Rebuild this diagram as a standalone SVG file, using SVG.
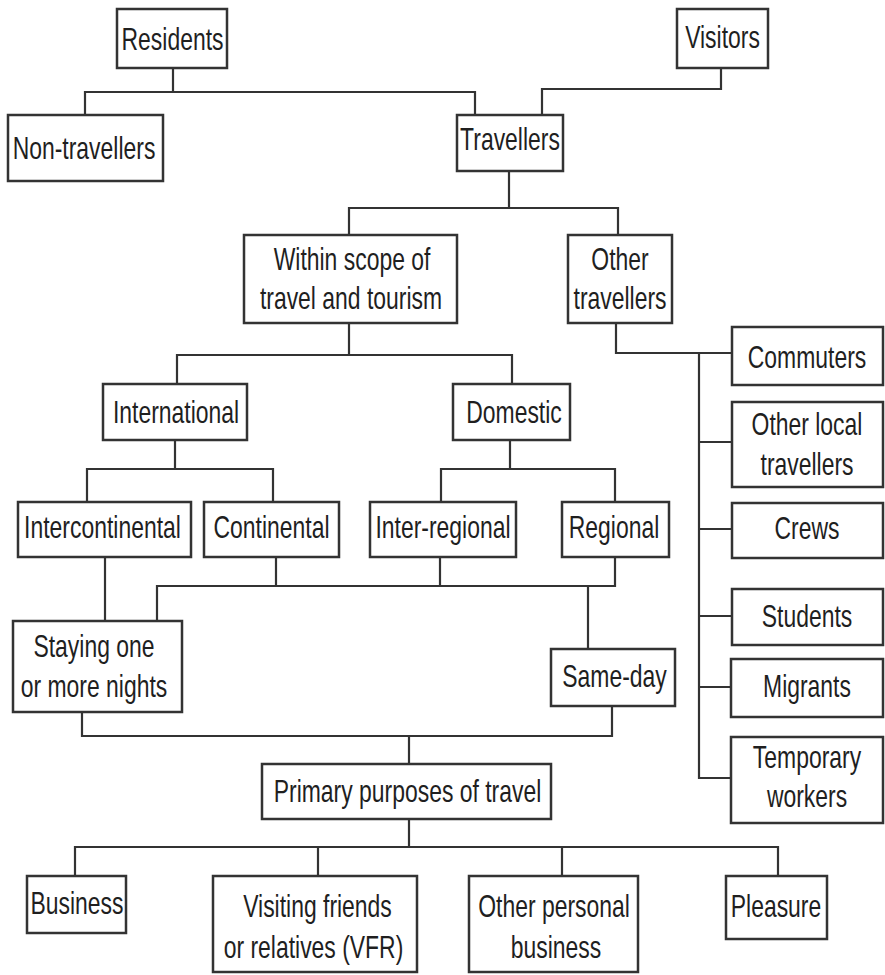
<svg xmlns="http://www.w3.org/2000/svg" width="885" height="975" viewBox="0 0 885 975">
  <style>
    .box rect { fill: #ffffff; stroke: #333333; stroke-width: 2.5; }
    .box text, text.lbl { font-family: "Liberation Sans", Arial, sans-serif; font-size: 31px; fill: #1f1f1f; text-anchor: middle; }
    #connectors path { fill: none; stroke: #333333; stroke-width: 2.2; }
  </style>
  <rect width="885" height="975" fill="#ffffff"/>

  <!-- tree links -->
  <g id="connectors">
    <path d="M173 68 V92 M85 115 V92 H475 V115"/>
    <path d="M721 68 V89 H542 V115"/>
    <path d="M509 171 V208 M349 235 V208 H618 V235"/>
    <path d="M349 323 V355 M177 384 V355 H512 V384"/>
    <path d="M616 323 V353 H732 M699 353 V778 H731 M699 442 H732 M699 529 H732 M699 616 H732 M699 687 H732"/>
    <path d="M175 440 V469 M87 502 V469 H273 V502"/>
    <path d="M510 440 V469 M441 502 V469 H615 V502"/>
    <path d="M105 557 V621"/>
    <path d="M276 557 V586 M440 557 V586 M157 621 V586 H615 V557 M588 586 V649"/>
    <path d="M82 712 V736 H612 V706 M409 736 V764"/>
    <path d="M409 819 V847 M75 876 V847 H778 V876 M318 847 V876 M562 847 V876"/>
  </g>

  <g id="residents" class="box">
    <rect x="117" y="9" width="110" height="59"/>
    <text transform="translate(172.5 50) scale(0.74 1)">Residents</text>
  </g>
  <g id="visitors" class="box">
    <rect x="677" y="9" width="91" height="59"/>
    <text transform="translate(722.5 48) scale(0.74 1)">Visitors</text>
  </g>
  <g id="non-travellers" class="box">
    <rect x="8" y="115" width="155" height="66"/>
    <text transform="translate(84 159) scale(0.74 1)">Non-travellers</text>
  </g>
  <g id="travellers" class="box">
    <rect x="457" y="115" width="106" height="56"/>
    <text transform="translate(510 150) scale(0.74 1)">Travellers</text>
  </g>
  <g id="within-scope" class="box">
    <rect x="244" y="235" width="213" height="88"/>
    <text transform="translate(352 270) scale(0.74 1)">Within scope of</text>
    <text transform="translate(351 309) scale(0.74 1)">travel and tourism</text>
  </g>
  <g id="other-travellers" class="box">
    <rect x="568" y="235" width="104" height="88"/>
    <text transform="translate(620 270) scale(0.74 1)">Other</text>
    <text transform="translate(620 309) scale(0.74 1)">travellers</text>
  </g>
  <g id="commuters" class="box">
    <rect x="732" y="327" width="151" height="58"/>
    <text transform="translate(807 368) scale(0.74 1)">Commuters</text>
  </g>
  <g id="other-local" class="box">
    <rect x="732" y="402" width="151" height="85"/>
    <text transform="translate(807 435) scale(0.74 1)">Other local</text>
    <text transform="translate(807 475) scale(0.74 1)">travellers</text>
  </g>
  <g id="crews" class="box">
    <rect x="732" y="503" width="151" height="55"/>
    <text transform="translate(807 539) scale(0.74 1)">Crews</text>
  </g>
  <g id="students" class="box">
    <rect x="732" y="589" width="151" height="56"/>
    <text transform="translate(807 627) scale(0.74 1)">Students</text>
  </g>
  <g id="migrants" class="box">
    <rect x="731" y="659" width="152" height="58"/>
    <text transform="translate(807 697) scale(0.74 1)">Migrants</text>
  </g>
  <g id="temporary-workers" class="box">
    <rect x="731" y="737" width="152" height="86"/>
    <text transform="translate(807 768) scale(0.74 1)">Temporary</text>
    <text transform="translate(807 807) scale(0.74 1)">workers</text>
  </g>
  <g id="international" class="box">
    <rect x="103" y="384" width="144" height="56"/>
    <text transform="translate(176 423) scale(0.74 1)">International</text>
  </g>
  <g id="domestic" class="box">
    <rect x="453" y="384" width="117" height="56"/>
    <text transform="translate(514 423) scale(0.74 1)">Domestic</text>
  </g>
  <g id="intercontinental" class="box">
    <rect x="18" y="502" width="173" height="55"/>
    <text transform="translate(102.5 538) scale(0.74 1)">Intercontinental</text>
  </g>
  <g id="continental" class="box">
    <rect x="204" y="502" width="135" height="55"/>
    <text transform="translate(271.5 538) scale(0.74 1)">Continental</text>
  </g>
  <g id="inter-regional" class="box">
    <rect x="370" y="502" width="146" height="55"/>
    <text transform="translate(443 538) scale(0.74 1)">Inter-regional</text>
  </g>
  <g id="regional" class="box">
    <rect x="562" y="502" width="107" height="55"/>
    <text transform="translate(614 538) scale(0.74 1)">Regional</text>
  </g>
  <g id="staying" class="box">
    <rect x="13" y="621" width="169" height="91"/>
    <text transform="translate(94 657) scale(0.74 1)">Staying one</text>
    <text transform="translate(94 697) scale(0.74 1)">or more nights</text>
  </g>
  <g id="same-day" class="box">
    <rect x="551" y="649" width="124" height="57"/>
    <text transform="translate(614.5 687) scale(0.74 1)">Same-day</text>
  </g>
  <g id="primary-purposes" class="box">
    <rect x="262" y="764" width="289" height="55"/>
    <text transform="translate(407.5 802) scale(0.74 1)">Primary purposes of travel</text>
  </g>
  <g id="business" class="box">
    <rect x="27" y="876" width="99" height="57"/>
    <text transform="translate(77 914) scale(0.74 1)">Business</text>
  </g>
  <g id="vfr" class="box">
    <rect x="213" y="876" width="204" height="96"/>
    <text transform="translate(317.5 917) scale(0.74 1)">Visiting friends</text>
    <text transform="translate(313.5 958) scale(0.74 1)">or relatives (VFR)</text>
  </g>
  <g id="other-personal" class="box">
    <rect x="469" y="876" width="169" height="96"/>
    <text transform="translate(554 917) scale(0.74 1)">Other personal</text>
    <text transform="translate(556 958) scale(0.74 1)">business</text>
  </g>
  <g id="pleasure" class="box">
    <rect x="726" y="876" width="101" height="63"/>
    <text transform="translate(776 917) scale(0.74 1)">Pleasure</text>
  </g>
</svg>
